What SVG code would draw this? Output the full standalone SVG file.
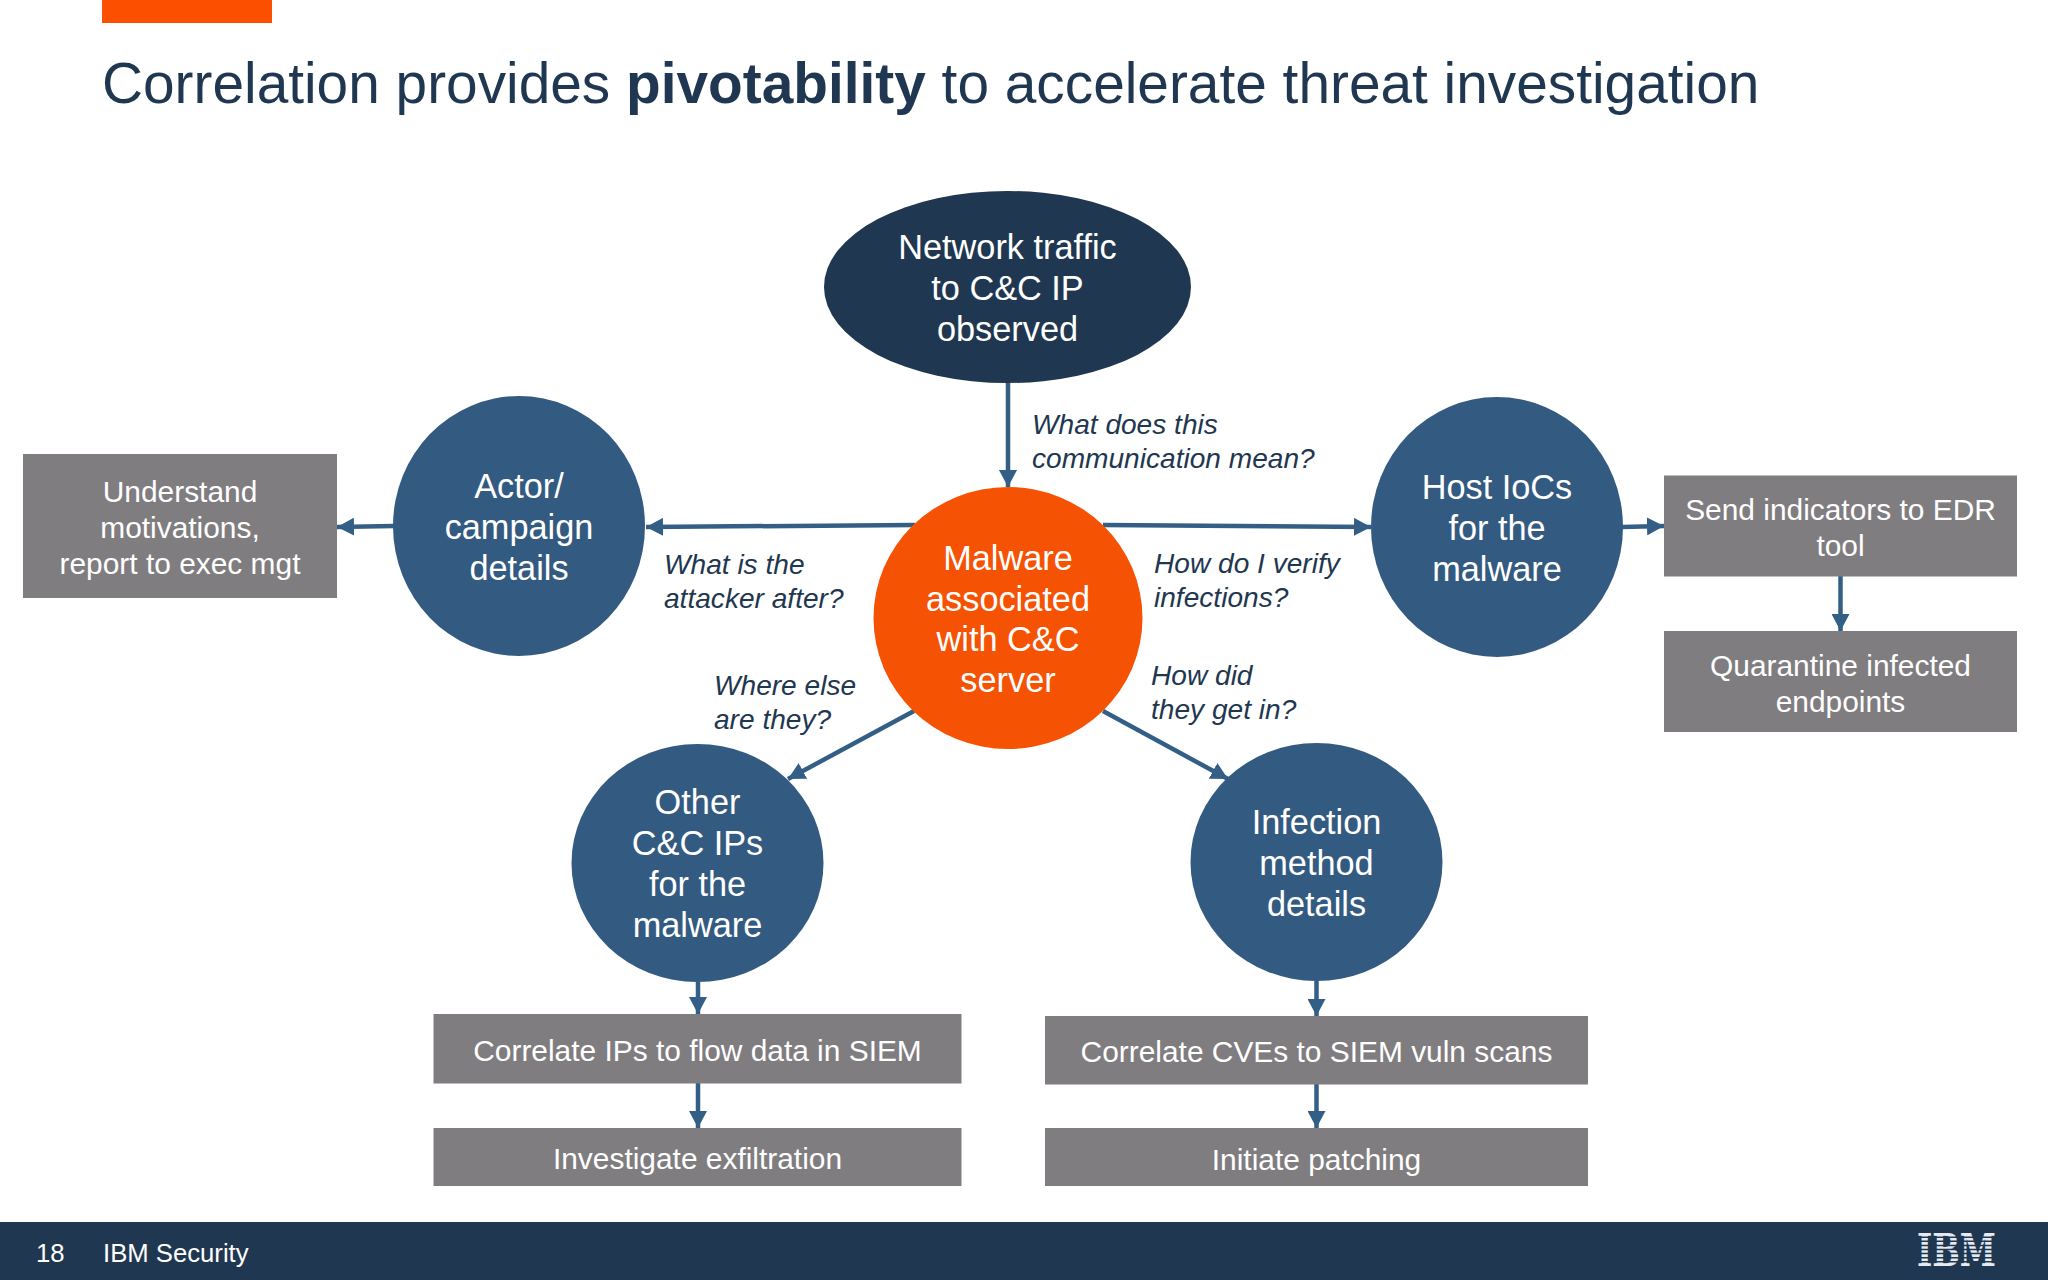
<svg xmlns="http://www.w3.org/2000/svg" width="2048" height="1280" viewBox="0 0 2048 1280">
<style>
text{font-family:"Liberation Sans",Arial,sans-serif}
.n{font-size:34.300px;fill:#fff;text-anchor:middle}
.b{font-size:29.900px;fill:#fff;text-anchor:middle}
.q{font-size:28.100px;font-style:italic;fill:#1f3750}
.box{fill:#7f7d7f}
.blue{fill:#335a80}
.c{fill:none;stroke:#335f87;stroke-width:4.500;marker-end:url(#a)}
</style>
<defs><marker id="a" markerUnits="userSpaceOnUse" markerWidth="18" markerHeight="18" refX="17" refY="9" orient="auto"><path d="M0 0L17 9L0 18Z" fill="#335f87"/></marker></defs>
<rect width="2048" height="1280" fill="#fff"/>
<rect x="102" y="0" width="170" height="23" fill="#fc5000"/>
<text x="102" y="103" font-size="56.800" fill="#1f3750">Correlation provides <tspan font-weight="700">pivotability</tspan> to accelerate threat investigation</text>
<g id="connectors">
<path class="c" d="M1008 383V487"/>
<path class="c" d="M915 525L646 527"/>
<path class="c" d="M394 526L337 527"/>
<path class="c" d="M1103 525L1371 527"/>
<path class="c" d="M1622 527L1664 526"/>
<path class="c" d="M1840.500 576V631"/>
<path class="c" d="M914 711L788 779"/>
<path class="c" d="M1103 711L1228 779"/>
<path class="c" d="M698 982V1014"/>
<path class="c" d="M698 1083V1128"/>
<path class="c" d="M1316.500 981V1016"/>
<path class="c" d="M1316.500 1084V1128"/>
</g>
<g id="n-traffic"><ellipse cx="1007.500" cy="287" rx="183.500" ry="96" fill="#1f3750"/><text class="n"><tspan x="1007.500" y="259">Network traffic</tspan><tspan x="1007.500" y="300">to C&amp;C IP</tspan><tspan x="1007.500" y="341">observed</tspan></text></g>
<g id="n-malware"><ellipse cx="1008" cy="618" rx="134.500" ry="131" fill="#f55204"/><text class="n"><tspan x="1008" y="570">Malware</tspan><tspan x="1008" y="611">associated</tspan><tspan x="1008" y="651">with C&amp;C</tspan><tspan x="1008" y="692">server</tspan></text></g>
<g id="n-actor"><ellipse class="blue" cx="519" cy="526" rx="126" ry="130"/><text class="n"><tspan x="519" y="498">Actor/</tspan><tspan x="519" y="539">campaign</tspan><tspan x="519" y="580">details</tspan></text></g>
<g id="n-host"><ellipse class="blue" cx="1497" cy="527" rx="126" ry="130"/><text class="n"><tspan x="1497" y="499">Host IoCs</tspan><tspan x="1497" y="540">for the</tspan><tspan x="1497" y="581">malware</tspan></text></g>
<g id="n-other"><ellipse class="blue" cx="697.500" cy="863" rx="126" ry="119"/><text class="n"><tspan x="697.500" y="814">Other</tspan><tspan x="697.500" y="855">C&amp;C IPs</tspan><tspan x="697.500" y="896">for the</tspan><tspan x="697.500" y="937">malware</tspan></text></g>
<g id="n-infection"><ellipse class="blue" cx="1316.500" cy="862" rx="126" ry="119"/><text class="n"><tspan x="1316.500" y="834">Infection</tspan><tspan x="1316.500" y="875">method</tspan><tspan x="1316.500" y="916">details</tspan></text></g>
<g id="b-understand"><rect class="box" x="23" y="454" width="314" height="144"/><text class="b"><tspan x="180" y="502">Understand</tspan><tspan x="180" y="538">motivations,</tspan><tspan x="180" y="574">report to exec mgt</tspan></text></g>
<g id="b-send"><rect class="box" x="1664" y="475.500" width="353" height="101"/><text class="b"><tspan x="1840.500" y="520">Send indicators to EDR</tspan><tspan x="1840.500" y="556">tool</tspan></text></g>
<g id="b-quarantine"><rect class="box" x="1664" y="631" width="353" height="101"/><text class="b"><tspan x="1840.500" y="676">Quarantine infected</tspan><tspan x="1840.500" y="712">endpoints</tspan></text></g>
<g id="b-ips"><rect class="box" x="433.500" y="1014" width="528" height="69.500"/><text class="b" x="697.500" y="1061">Correlate IPs to flow data in SIEM</text></g>
<g id="b-exfil"><rect class="box" x="433.500" y="1128" width="528" height="58"/><text class="b" x="697.500" y="1169">Investigate exfiltration</text></g>
<g id="b-cves"><rect class="box" x="1045" y="1016" width="543" height="68.500"/><text class="b" x="1316.500" y="1062">Correlate CVEs to SIEM vuln scans</text></g>
<g id="b-patch"><rect class="box" x="1045" y="1128" width="543" height="58"/><text class="b" x="1316.500" y="1170">Initiate patching</text></g>
<g id="labels">
<text class="q"><tspan x="1032" y="434">What does this</tspan><tspan x="1032" y="468">communication mean?</tspan></text>
<text class="q"><tspan x="664" y="574">What is the</tspan><tspan x="664" y="608">attacker after?</tspan></text>
<text class="q"><tspan x="1154" y="573">How do I verify</tspan><tspan x="1154" y="607">infections?</tspan></text>
<text class="q"><tspan x="714" y="695">Where else</tspan><tspan x="714" y="729">are they?</tspan></text>
<text class="q"><tspan x="1151" y="685">How did</tspan><tspan x="1151" y="719">they get in?</tspan></text>
</g>
<rect y="1222" width="2048" height="58" fill="#1f3750"/>
<text x="36" y="1262" font-size="25.700" fill="#fff">18</text>
<text x="103" y="1262" font-size="25.700" fill="#fff">IBM Security</text>
<g id="ibm-logo">
<text x="1917" y="1266" font-size="45" font-weight="700" style="font-family:'DejaVu Serif',serif" fill="#e6ebf1" textLength="79" lengthAdjust="spacingAndGlyphs">IBM</text>
<path d="M1915 1237.200H2000M1915 1241.300H2000M1915 1245.400H2000M1915 1249.500H2000M1915 1253.600H2000M1915 1257.700H2000M1915 1261.800H2000" stroke="#1f3750" stroke-width="1.500"/>
</g>
</svg>
